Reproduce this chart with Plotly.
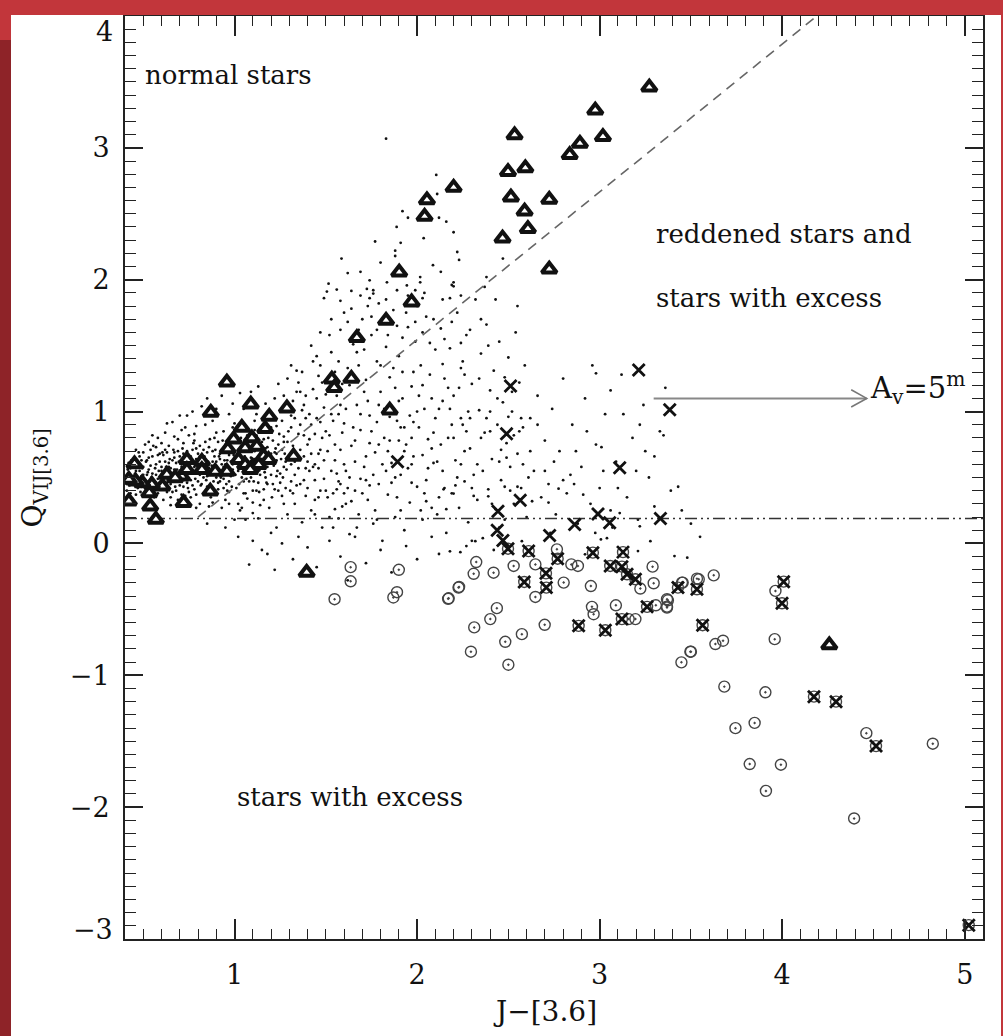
import plotly.graph_objects as go

# ---------------- data ----------------
dots = [
    # dense band, normal stars
    (0.41,0.45),(0.42,0.52),(0.43,0.38),(0.44,0.61),(0.45,0.49),(0.46,0.55),(0.47,0.42),(0.48,0.66),(0.49,0.51),(0.50,0.58),
    (0.51,0.36),(0.52,0.63),(0.53,0.47),(0.54,0.71),(0.55,0.53),(0.56,0.41),(0.57,0.60),(0.58,0.49),(0.59,0.68),(0.60,0.55),
    (0.61,0.33),(0.62,0.62),(0.63,0.46),(0.64,0.74),(0.65,0.57),(0.66,0.39),(0.67,0.65),(0.68,0.52),(0.69,0.79),(0.70,0.44),
    (0.71,0.60),(0.72,0.68),(0.73,0.36),(0.74,0.55),(0.75,0.82),(0.76,0.48),(0.77,0.63),(0.78,0.41),(0.79,0.72),(0.80,0.56),
    (0.81,0.30),(0.82,0.66),(0.83,0.50),(0.84,0.77),(0.85,0.43),(0.86,0.61),(0.87,0.35),(0.88,0.70),(0.89,0.53),(0.90,0.84),
    (0.91,0.46),(0.92,0.64),(0.93,0.27),(0.94,0.58),(0.95,0.75),(0.96,0.40),(0.97,0.67),(0.98,0.51),(0.99,0.88),(0.44,0.34),
    (0.47,0.59),(0.52,0.44),(0.55,0.66),(0.58,0.38),(0.62,0.54),(0.65,0.45),(0.68,0.61),(0.72,0.50),(0.75,0.39),(0.78,0.58),
    (0.82,0.45),(0.85,0.69),(0.88,0.41),(0.92,0.55),(0.95,0.33),(0.98,0.62),(0.53,0.56),(0.57,0.52),(0.63,0.69),(0.67,0.47),
    (0.71,0.37),(0.74,0.70),(0.77,0.53),(0.81,0.74),(0.84,0.57),(0.87,0.52),(0.90,0.37),(0.93,0.71),(0.97,0.47),(0.60,0.44),
    (0.70,0.55),(0.80,0.47),(0.90,0.62),(0.64,0.58),(0.76,0.66),(0.86,0.28),(0.94,0.49),(0.49,0.43),(0.59,0.62),(0.69,0.33),
    (0.66,0.92),(0.74,0.97),(0.82,1.04),(0.88,0.93),(0.93,1.12),(0.97,0.98),(0.79,0.89),(0.71,0.86),(0.58,0.80),(0.62,0.84),
    (0.43,0.57),(0.51,0.48),(0.46,0.37),(0.62,0.71),(0.55,0.44),(0.71,0.52),(0.68,0.40),(0.79,0.64),(0.85,0.51),(0.92,0.47),
    (0.58,0.67),(0.64,0.50),(0.77,0.44),(0.83,0.60),(0.99,0.56),(1.05,0.47),(1.12,0.53),(1.18,0.45),(0.48,0.55),(0.53,0.40),
    (0.60,0.58),(0.66,0.63),(0.73,0.59),(0.81,0.52),(0.88,0.62),(0.96,0.69),(1.03,0.60),(1.09,0.65),(1.16,0.57),(1.23,0.63),
    (0.41,0.40),(0.45,0.64),(0.50,0.69),(0.56,0.35),(0.61,0.49),(0.67,0.56),(0.72,0.76),(0.76,0.35),(0.80,0.68),(0.87,0.44),
    (0.91,0.77),(0.95,0.54),(1.00,0.65),(1.06,0.73),(1.10,0.40),(1.15,0.67),(1.20,0.52),(1.25,0.46),(0.54,0.59),(0.59,0.46),
    (0.63,0.39),(0.69,0.70),(0.74,0.46),(0.78,0.78),(0.84,0.39),(0.89,0.66),(0.94,0.42),(0.98,0.73),(1.04,0.50),(1.08,0.77),
    (1.13,0.46),(1.19,0.62),(1.24,0.75),(0.42,0.61),(0.47,0.46),(0.52,0.52),(0.57,0.73),(0.62,0.43),(0.66,0.51),(0.70,0.66),
    (0.75,0.58),(0.79,0.37),(0.83,0.71),(0.86,0.57),(0.90,0.50),(0.93,0.60),(0.97,0.39),(1.01,0.77),(1.05,0.38),(1.11,0.70),
    (1.14,0.60),(1.17,0.50),(1.21,0.78),(0.44,0.51),(0.49,0.63),(0.56,0.47),(0.61,0.67),(0.65,0.35),(0.72,0.43),(0.77,0.71),
    (0.82,0.58),(0.86,0.73),(0.91,0.41),(0.96,0.63),(1.02,0.55),(1.07,0.56),(1.12,0.82),(1.17,0.72),(1.22,0.41),(0.53,0.77),
    (0.60,0.76),(0.67,0.81),(0.73,0.88),(0.78,0.83),(0.84,0.90),(0.89,0.80),(0.94,0.85),(1.00,0.91),(1.06,0.87),(1.11,0.93),
    (1.18,0.98),(1.23,0.89),(0.65,0.29),(0.72,0.31),(0.79,0.27),(0.88,0.31),(0.97,0.30),(1.04,0.27),(1.10,0.23),(1.16,0.33),
    (1.27,0.30),(1.33,0.52),(1.28,0.42),(1.31,0.60),(1.36,0.71),(1.39,0.36),(1.42,0.68),(1.44,0.48),(1.47,0.40),(1.49,0.63),
    (0.46,0.71),(0.51,0.75),(0.55,0.82),(0.63,0.91),(0.70,0.97),(0.77,1.00),(0.85,1.10),(0.90,1.02),(0.99,1.06),(1.03,1.14),
    (0.405,0.48),(0.415,0.56),(0.425,0.44),(0.435,0.63),(0.455,0.53),(0.465,0.47),(0.475,0.69),(0.485,0.39),(0.495,0.57),(0.505,0.45),
    (0.515,0.62),(0.525,0.54),(0.535,0.36),(0.545,0.50),(0.555,0.74),(0.565,0.57),(0.575,0.43),(0.585,0.55),(0.595,0.51),(0.605,0.69),
    (0.615,0.41),(0.625,0.58),(0.635,0.52),(0.645,0.64),(0.655,0.48),(0.665,0.71),(0.675,0.43),(0.685,0.56),(0.695,0.62),(0.705,0.49),
    (0.715,0.72),(0.725,0.55),(0.735,0.63),(0.745,0.42),(0.755,0.61),(0.765,0.54),(0.775,0.76),(0.785,0.49),(0.795,0.59),(0.805,0.63),
    (0.815,0.44),(0.825,0.55),(0.835,0.66),(0.845,0.48),(0.855,0.62),(0.865,0.79),(0.875,0.59),(0.885,0.47),(0.895,0.71),(0.905,0.56),
    (0.915,0.66),(0.925,0.50),(0.935,0.78),(0.945,0.63),(0.955,0.45),(0.965,0.72),(0.975,0.57),(0.985,0.43),(0.995,0.67),(1.005,0.52),
    (1.015,0.68),(1.025,0.45),(1.035,0.80),(1.045,0.57),(1.055,0.66),(1.065,0.49),(1.075,0.61),(1.085,0.85),(1.095,0.58),(1.105,0.47),
    (1.115,0.74),(1.125,0.62),(1.135,0.39),(1.145,0.69),(1.155,0.86),(1.165,0.54),(1.175,0.46),(1.185,0.80),(1.195,0.66),(1.205,0.35),
    (1.215,0.59),(1.225,0.72),(1.235,0.55),(1.245,0.83),(1.255,0.64),(1.265,0.50),(1.275,0.68),(1.285,0.56),(1.295,0.85),(1.305,0.40),
    (0.43,0.49),(0.50,0.52),(0.57,0.46),(0.64,0.61),(0.71,0.58),(0.78,0.53),(0.85,0.58),(0.92,0.68),(0.99,0.60),(1.06,0.63),
    (1.13,0.57),(1.20,0.68),(1.27,0.77),(0.46,0.59),(0.53,0.65),(0.60,0.52),(0.67,0.69),(0.74,0.62),(0.81,0.66),(0.88,0.54),
    (0.95,0.60),(1.02,0.63),(1.09,0.70),(1.16,0.79),(1.23,0.68),
    # x 1.0 - 1.6
    (1.01,0.42),(1.02,0.71),(1.03,0.25),(1.04,0.93),(1.05,0.55),(1.06,0.38),(1.07,0.82),(1.08,0.47),(1.09,1.15),(1.10,0.31),
    (1.11,0.64),(1.12,0.98),(1.13,0.19),(1.14,0.52),(1.15,0.77),(1.16,0.41),(1.17,1.06),(1.18,0.58),(1.19,0.27),(1.20,0.88),
    (1.21,0.45),(1.22,0.69),(1.23,0.12),(1.24,1.21),(1.25,0.53),(1.26,0.36),(1.27,0.81),(1.28,0.62),(1.29,0.22),(1.30,1.02),
    (1.31,0.47),(1.32,0.74),(1.33,0.30),(1.34,1.31),(1.35,0.57),(1.36,0.90),(1.37,0.16),(1.38,0.66),(1.39,1.12),(1.40,0.42),
    (1.41,0.79),(1.42,0.25),(1.43,1.38),(1.44,0.60),(1.45,0.95),(1.46,0.35),(1.47,0.71),(1.48,1.22),(1.49,0.49),(1.50,0.85),
    (1.04,0.61),(1.07,0.34),(1.11,0.86),(1.14,0.29),(1.18,0.73),(1.21,0.96),(1.24,0.40),(1.27,0.58),(1.31,0.88),(1.34,0.44),
    (1.37,1.01),(1.41,0.55),(1.44,0.33),(1.47,0.92),(1.05,1.02),(1.13,1.19),(1.22,1.10),(1.29,1.25),(1.36,1.15),(1.45,1.42),
    (1.02,0.30),(1.09,0.50),(1.16,0.63),(1.23,0.51),(1.30,0.66),(1.38,0.48),(1.46,0.57),(1.12,0.40),(1.26,0.71),(1.40,0.62),
    (1.06,0.18),(1.20,0.08),(1.35,0.05),(1.48,0.12),(1.15,-0.05),
    (1.31,0.97),(1.33,0.62),(1.35,0.83),(1.36,0.45),(1.38,1.05),(1.40,0.75),(1.42,0.90),(1.43,0.58),(1.45,1.10),(1.46,0.68),
    (1.48,0.80),(1.50,0.40),(1.51,1.25),(1.53,0.98),(1.55,0.75),(1.56,0.53),(1.58,1.05),(1.60,0.38),(1.32,0.38),(1.44,0.22),
    (1.52,0.20),(1.39,0.95),(1.47,1.35),(1.34,1.15),(1.58,0.45),
    # upper wedge x 1.5 - 2.25
    (1.888,2.40),(1.77,2.29),(1.586,2.16),(1.515,1.97),(1.62,2.05),(1.69,2.06),(1.74,1.995),(1.88,2.22),(1.91,2.28),(1.95,2.47),
    (1.92,2.52),(2.036,2.315),(2.087,2.11),(2.13,2.06),(2.11,2.65),(2.12,2.47),(2.16,2.44),(2.20,2.36),(2.22,2.21),(2.23,2.15),
    (2.20,1.98),(2.19,1.96),(2.017,2.02),(2.017,1.98),(2.47,2.16),(2.38,2.02),(2.37,1.945),(1.80,2.13),(1.88,2.18),(1.835,1.98),
    (1.944,1.957),(1.99,1.92),(1.89,1.92),(1.725,1.93),(1.76,1.895),(1.74,1.86),(1.56,1.925),(1.64,1.915),(1.506,1.91),(1.49,1.86),
    (1.97,1.86),(2.03,1.86),(2.18,1.86),(2.24,1.88),(1.83,3.07),(2.105,2.795),
    # x 1.5 - 2.1 lower
    (1.51,0.35),(1.52,0.82),(1.53,1.45),(1.54,0.12),(1.55,0.63),(1.56,1.12),(1.57,0.47),(1.58,1.62),(1.59,0.28),(1.60,0.91),
    (1.61,0.55),(1.62,1.33),(1.63,0.07),(1.64,0.74),(1.65,1.51),(1.66,0.40),(1.67,1.05),(1.68,0.22),(1.69,0.86),(1.70,1.70),
    (1.71,0.58),(1.72,1.24),(1.73,0.33),(1.74,0.97),(1.75,1.58),(1.76,0.15),(1.77,0.69),(1.78,1.38),(1.79,0.45),(1.80,1.15),
    (1.81,0.02),(1.82,0.80),(1.83,1.49),(1.84,0.37),(1.85,1.26),(1.86,0.61),(1.87,1.77),(1.88,0.20),(1.89,0.93),(1.90,1.42),
    (1.91,0.52),(1.92,1.10),(1.93,0.10),(1.94,0.75),(1.95,1.64),(1.96,0.31),(1.97,1.19),(1.98,0.66),(1.99,1.53),(2.00,0.43),
    (2.01,0.88),(2.02,1.35),(2.03,0.18),(2.04,1.02),(2.05,1.72),(2.06,0.57),(2.07,1.28),(2.08,0.27),(2.09,0.84),(2.10,1.47),
    (1.53,0.55),(1.57,0.98),(1.61,0.30),(1.65,0.88),(1.69,0.49),(1.73,1.08),(1.77,0.25),(1.81,0.60),(1.85,0.96),(1.89,0.35),
    (1.93,0.70),(1.97,0.46),(2.01,1.12),(2.05,0.32),(2.09,0.61),(1.55,1.30),(1.63,1.20),(1.71,1.47),(1.79,1.82),(1.87,1.33),
    (1.95,1.88),(2.03,1.60),(1.58,0.71),(1.66,0.62),(1.74,0.76),(1.82,1.02),(1.90,0.78),(1.98,0.92),(2.06,0.79),(1.60,1.75),
    (1.68,1.62),(1.76,1.92),(1.84,1.68),(1.92,1.56),(2.00,1.80),
    (1.26,0.93),(1.32,1.08),(1.38,0.82),(1.43,1.17),(1.49,1.03),(1.54,0.93),(1.59,1.21),(1.63,0.50),(1.68,1.35),(1.72,0.66),
    (1.78,0.92),(1.83,0.55),(1.88,1.18),(1.93,0.88),(1.98,1.30),(2.03,0.67),(2.08,1.10),(2.13,0.75),(2.18,1.02),(2.24,0.60),
    (1.29,0.77),(1.35,1.22),(1.41,0.98),(1.46,1.27),(1.51,0.70),(1.56,0.41),(1.61,1.02),(1.66,0.78),(1.71,1.15),(1.76,0.52),
    (1.80,1.35),(1.85,0.78),(1.90,1.08),(1.95,0.57),(2.00,1.00),(2.05,0.48),(2.10,0.95),(2.15,1.55),(2.20,0.80),(2.26,1.28),
    (1.33,0.95),(1.39,0.57),(1.44,0.83),(1.50,1.13),(1.55,0.26),(1.60,0.60),(1.65,1.27),(1.70,0.38),(1.75,0.85),(1.79,1.05),
    (1.84,1.58),(1.88,0.50),(1.92,1.30),(1.96,0.97),(2.02,0.25),(2.07,1.52),(2.12,0.35),(2.17,1.18),(2.22,0.50),(2.27,0.85),
    (1.52,1.58),(1.57,1.38),(1.62,1.68),(1.67,1.45),(1.73,1.80),(1.78,1.62),(1.83,1.85),(1.89,1.65),(1.94,1.75),(1.99,1.68),
    (2.04,1.90),(2.09,1.70),(2.14,1.85),(2.19,1.68),(2.24,1.52),(2.29,1.62),(2.34,1.25),(2.39,1.50),(2.44,1.10),(2.49,0.65),
    (1.27,1.12),(1.31,1.35),(1.37,1.30),(1.42,1.50),(1.47,1.60),(1.53,1.70),(1.58,1.84),(1.64,1.78),(1.69,1.88),(1.75,1.72),
    (1.57,0.19),(1.62,0.42),(1.67,0.12),(1.72,0.48),(1.78,0.18),(1.84,0.70),(1.91,0.25),(1.97,0.60),(2.04,0.38),(2.11,0.62),
    (2.16,0.26),(2.21,0.44),(2.26,0.70),(2.31,0.36),(2.36,0.55),(2.41,0.30),(2.46,0.71),(2.51,0.40),(2.56,0.85),(2.61,0.50),
    (1.54,0.38),(1.59,0.84),(1.64,0.32),(1.69,0.98),(1.74,0.44),(1.79,0.75),(1.86,0.46),(1.91,0.88),(1.97,0.80),(2.03,1.20),
    (2.08,0.72),(2.14,1.08),(2.19,0.90),(2.24,1.33),(2.29,0.95),(2.35,0.80),(2.40,1.00),(2.45,0.62),(2.52,1.15),(2.57,0.95),
    (2.62,0.70),(2.66,0.90),(2.70,0.55),(2.75,0.62),(2.80,0.48),(2.87,0.70),(2.93,0.85),(3.02,0.55),(3.10,0.42),(3.25,0.70),
    # x 2.1 - 2.7
    (2.11,0.22),(2.12,1.02),(2.13,1.63),(2.14,0.55),(2.15,1.25),(2.16,0.08),(2.17,0.80),(2.18,1.48),(2.19,0.38),(2.20,1.12),
    (2.21,0.63),(2.22,1.75),(2.23,0.27),(2.24,0.95),(2.25,1.38),(2.26,0.47),(2.27,1.58),(2.28,0.16),(2.29,0.72),(2.30,1.21),
    (2.31,0.52),(2.32,1.85),(2.33,0.33),(2.34,1.01),(2.35,1.44),(2.36,0.04),(2.37,0.84),(2.38,1.66),(2.39,0.41),(2.40,1.16),
    (2.41,0.64),(2.42,1.31),(2.43,0.26),(2.44,0.90),(2.45,1.53),(2.46,0.48),(2.47,1.07),(2.48,0.18),(2.49,0.76),(2.50,1.41),
    (2.51,0.58),(2.52,1.00),(2.53,0.30),(2.54,1.60),(2.55,0.68),(2.56,1.22),(2.57,0.42),(2.58,0.88),(2.59,1.35),(2.60,0.20),
    (2.62,0.95),(2.64,0.55),(2.66,1.12),(2.68,0.35),(2.70,0.78),(2.15,0.42),(2.20,1.95),(2.25,0.90),(2.30,0.02),(2.35,1.70),
    (2.40,0.85),(2.45,0.12),(2.50,0.96),(2.55,1.80),(2.14,1.36),(2.23,1.18),(2.28,1.00),(2.33,0.60),(2.38,0.95),(2.43,1.85),
    (2.48,1.26),(2.53,0.82),(2.58,0.60),(2.12,-0.08),(2.27,-0.02),(2.42,-0.05),
    # x 2.7 - 3.6 sparse
    (2.72,0.45),(2.74,1.02),(2.76,0.22),(2.78,0.70),(2.80,1.25),(2.82,0.38),(2.85,0.90),(2.88,0.15),(2.90,0.58),(2.92,1.10),
    (2.95,0.30),(2.98,0.75),(3.00,0.42),(3.03,0.98),(3.06,0.25),(3.09,0.62),(3.12,1.28),(3.15,0.35),(3.18,0.80),(3.21,0.18),
    (3.24,1.05),(3.27,0.50),(3.30,0.28),(3.33,0.85),(3.36,1.18),(3.39,0.40),(2.84,0.52),(2.96,1.35),(3.07,0.12),(3.20,0.55),
    (3.45,0.25),(3.50,0.15),(3.55,0.05),(3.04,0.04),(2.73,0.08),
    (2.98,1.29),(3.06,1.16),(3.13,0.98),(3.22,0.90),(3.35,0.82),(3.01,0.73),(3.30,0.66),
    (2.145,0.41),(2.20,0.378),(2.30,0.42),(2.39,0.357),(2.48,0.43),(2.55,0.43),(2.63,0.32),(2.72,0.31),(2.775,0.415),(2.86,0.45),
    (2.91,0.37),(2.976,0.08),(3.007,0.03),(3.11,0.23),(3.22,0.13),(3.278,0.017),(3.41,-0.096),(3.48,-0.108),(2.319,0.017),(2.237,-0.066),
    (3.21,-0.058),(2.92,-0.083),(2.574,0.017),(3.43,0.43),
    # below the threshold, left part
    (0.95,0.12),(1.02,0.05),(1.10,0.02),(1.18,-0.08),(1.26,0.00),(1.32,-0.12),(1.40,-0.03),(1.45,-0.18),(1.52,0.02),(1.58,-0.10),
    (1.66,0.05),(1.72,-0.15),(1.80,-0.05),(1.86,-0.22),(1.94,-0.02),(2.00,-0.12),(2.08,0.05),(2.18,-0.06),(0.85,0.15),(1.00,0.18),
    (1.08,-0.16),(1.22,-0.20),(1.62,-0.28),
]
dot_x = [p[0] for p in dots]
dot_y = [p[1] for p in dots]

tri_x = [3.272, 2.976, 3.018, 2.892, 2.836, 2.534, 2.498, 2.593, 2.514, 2.724, 2.589, 2.607, 2.468, 2.724,
         2.20, 2.054, 2.041, 1.902, 1.97, 1.83, 1.67, 1.533, 1.546, 1.64, 1.287, 1.85,
         0.958, 0.870, 1.089, 1.19, 1.168, 1.04, 0.995, 0.963, 1.058, 1.095, 1.122, 1.159, 1.186, 1.022,
         1.058, 1.099, 1.132, 1.323, 1.086, 0.958, 0.894, 0.821, 0.821, 0.739, 0.711, 0.629, 0.605, 0.547,
         0.533, 0.538, 0.569, 0.494, 0.458, 0.421, 0.421, 0.452, 0.721, 0.867, 0.739, 0.675,
         1.395, 4.258]
tri_y = [3.46, 3.285, 3.084, 3.033, 2.948, 3.097, 2.819, 2.847, 2.625, 2.608, 2.519, 2.386, 2.315, 2.079,
         2.70, 2.605, 2.479, 2.056, 1.83, 1.69, 1.56, 1.245, 1.18, 1.25, 1.026, 1.01,
         1.222, 0.993, 1.056, 0.962, 0.869, 0.879, 0.79, 0.716, 0.723, 0.80, 0.736, 0.66, 0.635, 0.635,
         0.597, 0.584, 0.597, 0.66, 0.559, 0.546, 0.546, 0.622, 0.559, 0.635, 0.509, 0.522, 0.433, 0.446,
         0.383, 0.282, 0.181, 0.459, 0.471, 0.484, 0.32, 0.602, 0.308, 0.395, 0.559, 0.497,
         -0.22, -0.771]

cross_x = [3.214, 3.384, 2.512, 2.49, 1.893, 3.11, 2.565, 2.443, 2.439, 2.47, 2.726, 2.863, 2.991, 3.055, 3.333]
cross_y = [1.315, 1.013, 1.194, 0.831, 0.62, 0.574, 0.327, 0.244, 0.10, 0.023, 0.06, 0.144, 0.224, 0.156, 0.189]

both_x = [2.498, 2.611, 2.77, 2.706, 2.708, 2.587, 2.963, 3.128, 3.058, 3.122, 3.15, 3.196, 3.26, 3.122,
          2.885, 3.031, 3.429, 3.533, 3.564, 4.008, 3.999, 4.174, 4.295, 4.514, 5.022]
both_y = [-0.04, -0.058, -0.116, -0.227, -0.335, -0.292, -0.07, -0.066, -0.171, -0.176, -0.234, -0.272, -0.481, -0.574,
          -0.625, -0.658, -0.335, -0.348, -0.62, -0.29, -0.454, -1.162, -1.2, -1.537, -2.895]

circ_x = [3.625, 3.543, 3.451, 3.374, 3.369, 3.963, 3.676, 3.634, 3.50, 3.448, 3.959, 3.683, 3.908, 3.744,
          3.849, 3.822, 3.993, 3.911, 4.461, 4.825, 4.394,
          2.324, 2.419, 2.529, 2.648, 2.766, 2.845, 2.881, 2.227, 2.173, 2.803, 2.648, 2.952, 3.29, 3.296,
          3.223, 3.089, 2.958, 2.967, 3.308, 3.369, 3.369, 3.455, 3.533, 2.437, 2.401, 2.313, 2.699, 2.574,
          2.483, 2.295, 3.159, 3.196, 3.497,
          1.548, 1.636, 1.636, 1.87, 1.89, 1.90, 2.17, 2.23, 2.31, 2.50]
circ_y = [-0.242, -0.272, -0.297, -0.431, -0.486, -0.36, -0.738, -0.763, -0.821, -0.902, -0.726, -1.086, -1.129, -1.401,
          -1.361, -1.673, -1.678, -1.877, -1.439, -1.519, -2.086,
          -0.141, -0.222, -0.171, -0.159, -0.045, -0.159, -0.171, -0.335, -0.416, -0.297, -0.406, -0.323, -0.176, -0.302,
          -0.342, -0.469, -0.481, -0.537, -0.469, -0.479, -0.423, -0.297, -0.267, -0.491, -0.574, -0.637, -0.617, -0.688,
          -0.746, -0.821, -0.574, -0.574, -0.821,
          -0.423, -0.287, -0.18, -0.41, -0.37, -0.20, -0.42, -0.33, -0.23, -0.92]

# reference lines
redden_x = [0.80, 4.19]
redden_y = [0.20, 4.00]
threshold_y = 0.19
arrow_x0, arrow_x1, arrow_y = 3.296, 4.463, 1.10

x_range = [0.4, 5.1]
y_range = [-3, 4]
x_ticks = [1, 2, 3, 4, 5]
y_ticks = [-3, -2, -1, 0, 1, 2, 3, 4]
y_ticktext = ["", "−2", "−1", "0", "1", "2", "3", ""]   # end labels are set slightly inward below

# ---------------- figure ----------------
SERIF = "DejaVu Serif"
fig = go.Figure()

fig.add_trace(go.Scatter(x=dot_x, y=dot_y, mode="markers",
                         marker=dict(symbol="circle", size=2.8, color="#111", line=dict(width=0))))
fig.add_trace(go.Scatter(x=redden_x, y=redden_y, mode="lines",
                         line=dict(color="#666", width=1.6, dash="10px,7px")))
fig.add_trace(go.Scatter(x=x_range, y=[threshold_y, threshold_y], mode="lines",
                         line=dict(color="#333", width=1.5, dash="12px,4px,2px,4px,2px,4px")))
fig.add_trace(go.Scatter(x=circ_x + both_x, y=circ_y + both_y, mode="markers",
                         marker=dict(symbol="circle-open-dot", size=11, color="#444", line=dict(width=1.4, color="#444"))))
fig.add_trace(go.Scatter(x=cross_x + both_x, y=cross_y + both_y, mode="markers",
                         marker=dict(symbol="x-thin-open", size=12, color="#111", line=dict(width=2.8, color="#111"))))
fig.add_trace(go.Scatter(x=tri_x, y=tri_y, mode="markers",
                         marker=dict(symbol="triangle-up", size=13, color="white", line=dict(width=4, color="#111"))))

# arrow (reddening vector)
fig.add_shape(type="line", x0=arrow_x0, x1=arrow_x1, y0=arrow_y, y1=arrow_y, xref="x", yref="y",
              line=dict(color="#888", width=2))
fig.add_shape(type="path", xref="x", yref="y",
              path=f"M {arrow_x1-0.085},{arrow_y+0.065} L {arrow_x1},{arrow_y} L {arrow_x1-0.085},{arrow_y-0.065}",
              line=dict(color="#777", width=1.6))

txt = dict(family=SERIF, size=26, color="#111")
fig.add_annotation(x=0.50, y=3.55, text="normal stars", showarrow=False, xanchor="left", yanchor="middle", font=txt)
fig.add_annotation(x=3.296, y=2.35, text="reddened stars and", showarrow=False, xanchor="left", yanchor="middle", font=txt)
fig.add_annotation(x=3.296, y=1.86, text="stars with excess", showarrow=False, xanchor="left", yanchor="middle", font=txt)
fig.add_annotation(x=1.005, y=-1.92, text="stars with excess", showarrow=False, xanchor="left", yanchor="middle", font=txt)
fig.add_annotation(x=arrow_x1 + 0.005, y=arrow_y + 0.08, text="A<sub>v</sub>=5<sup>m</sup>", showarrow=False,
                   xanchor="left", yanchor="middle", font=dict(family=SERIF, size=29, color="#111"))

# end tick labels of the y axis (drawn slightly inward, as in the original)
tickfont = dict(family=SERIF, size=27, color="#111")
fig.add_annotation(xref="paper", yref="y", x=-0.012, y=3.885, text="4", showarrow=False,
                   xanchor="right", yanchor="middle", font=tickfont)
fig.add_annotation(xref="paper", yref="y", x=-0.012, y=-2.925, text="−3", showarrow=False,
                   xanchor="right", yanchor="middle", font=tickfont)

# axis titles
fig.add_annotation(xref="paper", yref="paper", x=0.49, y=-0.079, text="J−[3.6]", showarrow=False,
                   xanchor="center", yanchor="middle", font=dict(family=SERIF, size=28, color="#111"))
fig.add_annotation(xref="paper", yref="paper", x=-0.105, y=0.50, text="Q<sub>VIJ[3.6]</sub>", showarrow=False,
                   textangle=-90, xanchor="center", yanchor="middle", font=dict(family=SERIF, size=28, color="#111"))

# red page frame
L, R, T, B = 125, 20, 16, 97
W, H = 1003, 1036
pw, ph = W - L - R, H - T - B
def px(x): return (x - L) / pw
def py(y): return (H - B - y) / ph
frame = [
    (px(0), px(11), py(H), py(40), "#8e2328"),
    (px(0), px(11), py(40), py(0), "#c2363b"),
    (px(0), px(W), py(15), py(0), "#c2363b"),
    (px(1001), px(W), py(H), py(0), "#c2363b"),
]
for x0, x1, y0, y1, c in frame:
    fig.add_shape(type="rect", xref="paper", yref="paper", x0=x0, x1=x1, y0=y0, y1=y1,
                  fillcolor=c, line=dict(width=0), layer="above")

axis_common = dict(showgrid=False, zeroline=False, showline=True, linecolor="#222", linewidth=2,
                   mirror="allticks", ticks="inside", tickcolor="#222", tickwidth=1.6, automargin=False,
                   tickfont=tickfont)
fig.update_xaxes(range=x_range, tickvals=x_ticks, ticklen=20, ticklabelstandoff=11,
                 minor=dict(dtick=0.1, ticks="inside", ticklen=10, tickwidth=1.4, tickcolor="#222"),
                 **axis_common)
fig.update_yaxes(range=y_range, tickvals=y_ticks, ticktext=y_ticktext, ticklen=18, ticklabelstandoff=8,
                 minor=dict(dtick=0.1, ticks="inside", ticklen=11, tickwidth=1.4, tickcolor="#222"),
                 **axis_common)

fig.update_layout(width=W, height=H, margin=dict(l=L, r=R, t=T, b=B),
                  paper_bgcolor="white", plot_bgcolor="white", showlegend=False)

fig.write_html("out.html")
